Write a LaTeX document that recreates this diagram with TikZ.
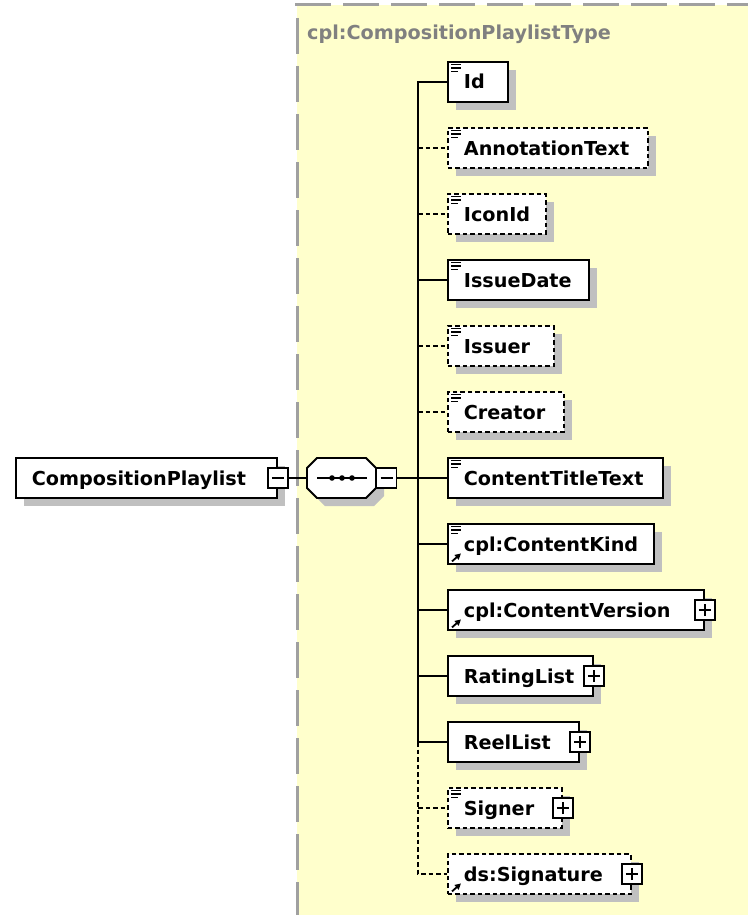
\documentclass[tikz,border=0pt]{standalone}
\usepackage{fontspec}
\setmainfont{DejaVu Sans}
\usetikzlibrary{arrows.meta}
\definecolor{bgyellow}{RGB}{255,255,204}
\definecolor{shgrey}{RGB}{192,192,192}
\definecolor{framegrey}{RGB}{160,160,160}
\definecolor{titlegrey}{RGB}{128,128,128}
\newcommand{\lbw}[2]{\makebox[#1pt][l]{#2}}
\newcommand{\docicon}[1]{\draw[line width=1.4pt] ([shift={(4,3.5)}]#1.north west) -- ++(10,0) ([shift={(4,7)}]#1.north west) -- ++(10,0) ([shift={(4,10.5)}]#1.north west) -- ++(7,0);}
\newcommand{\reficon}[1]{\draw[line width=1.8pt,-{Triangle[length=6pt,width=6pt]}] ([shift={(5,-3.5)}]#1.south west) -- ++(9,-8);}
\begin{document}
\begin{tikzpicture}[x=1pt,y=-1pt,
  elem/.style={draw=black, line width=1.8pt, fill=white, anchor=west, inner xsep=16pt, inner ysep=0pt,
    minimum height=40pt, text height=14pt, text depth=0pt, font=\fontsize{19.2}{22}\selectfont\bfseries,
    preaction={draw=none, fill=shgrey, transform canvas={xshift=8pt, yshift=-8pt}}},
  opt/.style={dash pattern=on 4.5pt off 3pt},
  pm/.style={draw=black, line width=1.6pt, fill=white, minimum size=20pt, inner sep=0pt},
  pmminus/.style={pm, path picture={\draw[line width=1.6pt] ([xshift=-6pt]path picture bounding box.center) -- ([xshift=6pt]path picture bounding box.center);}},
  pmplus/.style={pm, path picture={\draw[line width=1.6pt] ([xshift=-6pt]path picture bounding box.center) -- ([xshift=6pt]path picture bounding box.center) ([yshift=-6pt]path picture bounding box.center) -- ([yshift=6pt]path picture bounding box.center);}},
  conn/.style={line width=2pt},
]
\useasboundingbox (0,0) rectangle (748,915);
\fill[white] (0,0) rectangle (748,915);
% type area
\fill[bgyellow] (297,5) rectangle (748,915);
\draw[framegrey, line width=3pt, dash pattern=on 36pt off 12pt] (295,5) -- (748,5);
\draw[framegrey, line width=3pt, dash pattern=on 36pt off 12pt] (297,18) -- (297,915);
\node[anchor=base west, text=titlegrey, font=\fontsize{19.2}{22}\selectfont\bfseries, inner sep=0pt] (title) at (307,40) {cpl:CompositionPlaylistType};

% root element
\node[elem] (comp) at (15,478) {\lbw{229}{CompositionPlaylist}};
\node[pmminus] (compm) at (comp.east) {};

% sequence compositor
\node[minimum width=69pt, minimum height=40pt, inner sep=0pt] (seq) at (341.5,478) {};
\fill[shgrey] (325,466) -- (374,466) -- (384,476) -- (384,496) -- (374,506) -- (325,506) -- (315,496) -- (315,476) -- cycle;
\draw[line width=1.8pt, fill=white] (317,458) -- (366,458) -- (376,468) -- (376,488) -- (366,498) -- (317,498) -- (307,488) -- (307,468) -- cycle;
\draw[line width=1.6pt] (317,478) -- (367,478);
\foreach \dx in {332,342,352} \fill (\dx,478) circle (2.8pt);
\node[pmminus] (seqm) at (386.5,478) {};
\coordinate (tr) at (418,478);

% children
\node[elem] (id) at (447,82) {\lbw{28}{Id}};
\node[elem, opt] (ann) at (447,148) {\lbw{168}{AnnotationText}};
\node[elem, opt] (icon) at (447,214) {\lbw{66}{IconId}};
\node[elem] (idate) at (447,280) {\lbw{109}{IssueDate}};
\node[elem, opt] (issuer) at (447,346) {\lbw{74}{Issuer}};
\node[elem, opt] (creator) at (447,412) {\lbw{84}{Creator}};
\node[elem] (ctt) at (447,478) {\lbw{183}{ContentTitleText}};
\node[elem] (ckind) at (447,544) {\lbw{174}{cpl:ContentKind}};
\node[elem] (cver) at (447,610) {\lbw{224}{cpl:ContentVersion}};
\node[elem] (rating) at (447,676) {\lbw{113}{RatingList}};
\node[elem] (reel) at (447,742) {\lbw{99}{ReelList}};
\node[elem, opt] (signer) at (447,808) {\lbw{82}{Signer}};
\node[elem, opt] (sig) at (447,874) {\lbw{151}{ds:Signature}};

% expand boxes
\node[pmplus] (cverp) at (cver.east) {};
\node[pmplus] (ratingp) at (rating.east) {};
\node[pmplus] (reelp) at (reel.east) {};
\node[pmplus] (signerp) at (signer.east) {};
\node[pmplus] (sigp) at (sig.east) {};

% icons
\docicon{id}
\docicon{ann}
\docicon{icon}
\docicon{idate}
\docicon{issuer}
\docicon{creator}
\docicon{ctt}
\docicon{ckind}
\reficon{ckind}
\reficon{cver}
\docicon{signer}
\reficon{sig}

% connectors
\draw[conn] (compm.east) -- (seq.west);
\draw[conn] (seqm.east) -- (tr);
\draw[conn] (id.west) -- (tr |- id.west) -- (tr |- reel.west) -- (reel.west);
\draw[conn, opt] (tr |- reel.west) -- (tr |- sig.west) -- (sig.west);
\draw[conn, opt] (tr |- ann.west) -- (ann.west);
\draw[conn, opt] (tr |- icon.west) -- (icon.west);
\draw[conn] (tr |- idate.west) -- (idate.west);
\draw[conn, opt] (tr |- issuer.west) -- (issuer.west);
\draw[conn, opt] (tr |- creator.west) -- (creator.west);
\draw[conn] (tr |- ctt.west) -- (ctt.west);
\draw[conn] (tr |- ckind.west) -- (ckind.west);
\draw[conn] (tr |- cver.west) -- (cver.west);
\draw[conn] (tr |- rating.west) -- (rating.west);
\draw[conn, opt] (tr |- signer.west) -- (signer.west);
\end{tikzpicture}
\end{document}
